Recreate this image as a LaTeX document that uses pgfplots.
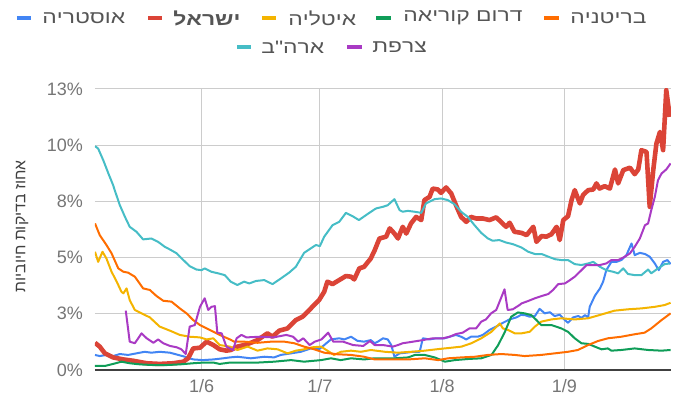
\documentclass[border=0pt]{standalone}
\usepackage{fontspec}
\setmainfont{Liberation Sans}
\newfontfamily\legfont{Liberation Sans}[FakeStretch=1.27]
\TeXXeTstate=1
\usepackage{pgfplots}
\pgfplotsset{compat=1.18}
\definecolor{cAus}{HTML}{4285F4}
\definecolor{cIsr}{HTML}{DB4437}
\definecolor{cIta}{HTML}{F4B400}
\definecolor{cKor}{HTML}{0F9D58}
\definecolor{cUK}{HTML}{FF6D00}
\definecolor{cUSA}{HTML}{46BDC6}
\definecolor{cFra}{HTML}{A93AC4}
\definecolor{tickgray}{HTML}{757575}
\definecolor{gridgray}{HTML}{CCCCCC}
\definecolor{leggray}{HTML}{555555}
\newcommand{\heb}[1]{\beginR #1\endR}
\begin{document}
\begin{tikzpicture}[x=1pt,y=1pt]
\path[use as bounding box] (-47.5,-18.5) rectangle (290.5,185);
\begin{axis}[at={(0,0)}, anchor=south west, scale only axis,
  width=288pt, height=140.5pt,
  xmin=4, xmax=150, ymin=0, ymax=12.5,
  axis x line*=bottom, axis y line*=left,
  y axis line style={draw=none},
  x axis line style={draw=black!75, line width=0.8pt},
  major tick length=0pt,
  grid=major, grid style={gridgray, line width=0.5pt},
  ytick={0,2.5,5,7.5,10,12.5},
  yticklabels={0\%,3\%,5\%,8\%,10\%,13\%},
  xtick={31,61,92,123},
  xticklabels={1/6,1/7,1/8,1/9},
  tick label style={font=\fontsize{9}{10}\selectfont, text=tickgray},
  yticklabel style={xshift=-2.5pt},
  xticklabel style={yshift=-1pt},
  clip=true,
  every axis plot/.append style={line width=1pt, line join=round, no markers},
]
% Austria
\addplot[cAus] coordinates {(4,0.67)(5.2,0.62)(6.9,0.67)(8.6,0.62)(10.3,0.71)(12.4,0.67)(14.5,0.74)(16.6,0.81)(18.3,0.77)(20.4,0.81)(23,0.77)(25.1,0.67)(26.8,0.59)(28.9,0.47)(31.4,0.44)(34,0.47)(36.5,0.52)(38.2,0.56)(40.1,0.59)(43.5,0.52)(46.9,0.59)(49.4,0.56)(51.1,0.67)(53.7,0.74)(56.2,0.81)(58.7,0.96)(60.8,0.92)(62.1,1.11)(63.8,1.36)(65.9,1.41)(67.2,1.36)(68.9,1.48)(70.5,1.30)(72.2,1.26)(73.9,1.33)(74.9,1.19)(75.7,1.26)(77,1.41)(78.2,1.36)(79.1,1.11)(79.9,0.59)(81.2,0.74)(82.9,0.77)(84.6,0.81)(86.3,0.81)(87.1,1.41)(88.8,1.36)(90.5,1.41)(92.6,1.41)(93.9,1.48)(95.5,1.56)(96.8,1.48)(98.1,1.36)(99.3,1.48)(101,1.48)(102.3,1.56)(104,1.78)(105.7,1.93)(107.4,2.10)(109.1,2.25)(110.8,2.34)(112,2.45)(113,2.44)(114.2,2.37)(115.5,2.40)(116.7,2.72)(118,2.52)(119.3,2.57)(120.5,2.40)(121.8,2.46)(123.1,2.22)(123.9,2.10)(125.2,2.34)(126.5,2.40)(127.3,2.32)(128.2,2.44)(129,2.34)(129.4,2.81)(130.7,3.3)(132,3.63)(132.8,3.93)(133.6,4.44)(134.9,4.81)(136.2,4.81)(137.4,4.89)(138.7,5.11)(140,5.63)(140.8,5.11)(142.1,5.21)(143.4,5.16)(144.6,5.04)(145.9,4.74)(146.9,4.44)(148,4.81)(149.1,4.89)(149.9,4.71)};
% Israel
\addplot[cIsr, line width=2.3pt] coordinates {(4,1.21)(5.2,1.04)(6.5,0.74)(8.6,0.56)(11.2,0.47)(13.7,0.41)(17.1,0.30)(20.4,0.27)(23.8,0.30)(26.4,0.37)(27.6,0.52)(28.9,0.96)(30.6,0.99)(32.3,1.26)(34,1.11)(35.6,0.92)(37.3,0.86)(38.4,0.89)(40.1,1.04)(41.8,1.11)(43.5,1.21)(45.2,1.33)(47.7,1.63)(49,1.48)(50.7,1.75)(52.8,1.85)(54.9,2.22)(56.6,2.37)(57.9,2.59)(59.1,2.81)(60.8,3.11)(62.1,3.48)(62.9,3.93)(64.2,3.82)(65.9,4.0)(67.6,4.18)(68.9,4.15)(69.7,4.03)(71,4.52)(72.2,4.59)(73.9,4.96)(74.9,5.33)(76.1,5.85)(77.8,5.93)(78.7,6.30)(79.9,6.07)(80.8,5.85)(82,6.37)(82.9,6.07)(84.1,6.52)(85.4,6.81)(86.7,6.67)(87.5,7.56)(88.8,7.70)(89.6,8.07)(90.9,8.03)(91.7,7.88)(93,8.12)(94.3,7.85)(95.5,7.33)(96.8,6.81)(98.1,6.59)(99.3,6.81)(100.6,6.74)(102.3,6.74)(104,6.67)(105.7,6.79)(106.9,6.59)(108.2,6.37)(109.1,6.55)(110.3,6.15)(112.1,6.10)(113.4,6.0)(115.1,6.37)(115.9,5.70)(117.2,5.96)(118.4,5.93)(119.7,6.04)(121,6.37)(121.8,5.78)(122.7,6.67)(123.9,6.84)(124.8,7.56)(125.6,8.0)(126.9,7.41)(127.7,7.78)(129,8.0)(130.3,8.03)(131.1,8.30)(131.9,8.07)(133.2,8.18)(134.5,8.07)(135.8,8.92)(136.6,8.30)(137.9,8.89)(139.6,9.0)(140.8,8.71)(141.7,8.92)(142.5,9.78)(143.8,9.70)(144.6,7.26)(145.5,8.89)(146.3,10.07)(147.2,10.59)(148,9.78)(148.8,12.45)(149.7,11.26)};
% Italy
\addplot[cIta] coordinates {(4,5.26)(4.8,4.81)(5.9,5.26)(6.9,4.96)(8.2,4.37)(9.5,3.93)(10.7,3.48)(11.2,3.41)(12,3.63)(12.8,3.11)(14.1,2.67)(15.8,2.52)(17.9,2.34)(20.4,1.93)(23,1.75)(25.5,1.56)(28,1.48)(30.6,1.45)(32.3,1.36)(34,1.41)(35.6,1.11)(38.2,1.04)(40.1,0.89)(42.7,1.04)(45.2,0.86)(47.7,0.96)(50.3,0.92)(52.8,0.74)(54.9,0.86)(57,0.92)(59.1,1.01)(61.3,1.04)(62.9,0.86)(64.6,0.67)(66.3,0.81)(68.9,0.86)(71.4,0.81)(73.9,0.89)(77.5,0.81)(80.8,0.77)(84.2,0.81)(87.6,0.86)(91,0.93)(94.3,0.99)(96.9,1.04)(99.4,1.19)(101.9,1.41)(104.5,1.70)(106.6,2.07)(107.4,1.85)(108.7,1.78)(110.4,1.63)(112.1,1.63)(114.2,1.70)(115.5,1.93)(117.1,2.15)(119.7,2.25)(122.2,2.30)(125.6,2.25)(129,2.30)(132.4,2.47)(135.7,2.64)(139.1,2.70)(142.5,2.74)(145.9,2.81)(148.4,2.89)(149.9,2.99)};
% South Korea
\addplot[cKor] coordinates {(4,0.18)(6.5,0.18)(8.6,0.27)(10.7,0.37)(12.8,0.30)(15.4,0.25)(18.8,0.22)(22.1,0.22)(25.5,0.25)(28.9,0.30)(31.4,0.33)(34,0.33)(35.6,0.27)(38.2,0.33)(45.2,0.33)(49.4,0.37)(53.7,0.44)(57,0.37)(61.3,0.44)(63.8,0.52)(66.3,0.44)(68.9,0.52)(72.2,0.47)(74.8,0.52)(80,0.52)(83.4,0.56)(85.1,0.67)(87.6,0.67)(90.1,0.56)(92.7,0.37)(95.2,0.44)(98.6,0.49)(101.9,0.52)(104.5,0.67)(106.2,1.11)(107.9,1.70)(109.5,2.37)(111.2,2.56)(112.9,2.52)(114.6,2.44)(115.9,2.22)(117.1,2.0)(119.7,2.0)(122.2,1.85)(123.9,1.70)(125.6,1.41)(127.3,1.19)(129,1.16)(130.7,1.04)(132.4,0.92)(134,0.96)(134.9,0.86)(137.4,0.89)(140.8,0.96)(144.2,0.89)(147.6,0.86)(149.9,0.89)};
% UK
\addplot[cUK] coordinates {(4,6.52)(5.2,6.0)(6.9,5.56)(8.2,5.19)(9.9,4.52)(11.2,4.37)(12.4,4.33)(14.1,4.15)(16.2,3.63)(17.9,3.56)(19.6,3.29)(21.3,3.08)(23.4,3.04)(25.5,2.74)(27.2,2.52)(28.9,2.22)(30.6,2.0)(33.1,1.78)(35.6,1.56)(38.2,1.36)(39.3,1.26)(41.8,1.26)(45.2,1.21)(48.6,1.26)(52,1.26)(54.5,1.19)(57,1.04)(59.6,0.92)(62.1,0.77)(65.5,0.70)(68.9,0.67)(72.2,0.59)(74.9,0.47)(79.1,0.47)(83.4,0.47)(87.6,0.52)(91,0.44)(93.5,0.52)(96.9,0.56)(100.3,0.59)(103.6,0.67)(107,0.71)(110.4,0.67)(112.9,0.62)(117.1,0.67)(120.5,0.74)(123.9,0.81)(126.4,0.89)(129,1.11)(131.5,1.29)(134,1.41)(137.4,1.48)(140.8,1.59)(143.3,1.66)(145,1.85)(147.6,2.22)(149.9,2.52)};
% USA
\addplot[cUSA] coordinates {(4,9.96)(4.8,9.85)(6.1,9.33)(7.4,8.74)(8.6,8.22)(9,8.0)(10.3,7.33)(11.6,6.81)(12.8,6.37)(14.5,6.15)(16.2,5.81)(18.3,5.85)(20,5.70)(21.7,5.48)(23,5.36)(24.7,5.19)(26.4,4.89)(28,4.62)(29.7,4.47)(31,4.44)(31.8,4.52)(33.5,4.37)(35.2,4.30)(36.9,4.22)(38.4,3.93)(40.1,3.78)(41.8,3.93)(43.1,3.85)(44.8,3.96)(46.9,4.0)(49,3.82)(51.1,4.07)(53.2,4.33)(54.9,4.59)(57,5.21)(58.7,5.41)(60,5.56)(61,5.51)(62.1,5.93)(64.2,6.44)(65.9,6.59)(67.6,6.99)(69.3,6.84)(70.9,6.67)(72.7,6.89)(74.8,7.14)(75.3,7.19)(77,7.26)(78.2,7.33)(79.9,7.6)(81.2,7.11)(82,7.04)(83.3,7.08)(85,7.04)(86.7,6.99)(87.9,7.41)(90.1,7.60)(91.7,7.63)(93.4,7.56)(95.1,7.38)(96.8,7.04)(98.5,6.81)(100.2,6.44)(101.9,6.10)(103.6,5.85)(104.8,5.75)(106.5,5.78)(108.2,5.67)(109.9,5.60)(112.1,5.45)(113.8,5.26)(115.5,5.16)(117.2,5.16)(118.9,5.04)(120.6,4.93)(122.2,4.89)(123.9,4.89)(125.6,4.71)(127.3,4.67)(129,4.74)(130.3,4.81)(132,4.59)(133.6,4.44)(135.3,4.37)(136.6,4.30)(137.9,4.52)(139.1,4.27)(140.8,4.22)(142.5,4.22)(144.2,4.47)(145,4.30)(146.7,4.52)(148.4,4.71)(149.7,4.74)};
% France
\addplot[cFra] coordinates {(11.8,2.64)(12.8,1.26)(14.1,1.19)(15.8,1.63)(17.1,1.41)(18.8,1.21)(20,1.36)(21.3,1.19)(23,1.07)(24.7,1.01)(25.9,0.92)(27,0.71)(28,1.93)(29.3,2.0)(30.6,2.81)(31.8,3.19)(32.7,2.67)(33.5,2.81)(34.4,2.84)(35,1.66)(36.1,1.63)(37.3,1.04)(38.2,0.96)(39,0.89)(39.9,1.41)(41.1,1.56)(42.4,1.45)(45.8,1.48)(49.2,1.45)(52.5,1.56)(54.2,1.48)(55.5,1.26)(56.8,1.41)(58.4,1.11)(59.7,1.26)(61.4,1.36)(63.1,1.66)(64.4,1.26)(66.9,1.26)(69.4,1.11)(72,1.07)(73.7,1.29)(74.9,1.11)(77,1.11)(79.5,1.04)(80.8,1.11)(82,1.19)(84.6,1.26)(87.1,1.33)(89.6,1.41)(92.2,1.41)(93.9,1.48)(95.5,1.60)(97.2,1.66)(98.9,1.85)(100.6,1.85)(101.9,2.15)(103.1,2.25)(104.4,2.52)(105.7,2.67)(106.9,3.19)(107.8,3.59)(108.6,2.67)(109.9,2.70)(111.6,2.89)(112.1,2.96)(113.8,3.07)(115.5,3.19)(117.2,3.29)(118.9,3.38)(120.1,3.56)(121.4,3.82)(123.1,3.85)(124.4,4.0)(125.6,4.15)(127.3,4.44)(128.6,4.67)(130.3,4.67)(132,4.67)(133.6,4.74)(134.9,4.89)(136.6,4.89)(138.3,5.04)(139.6,5.19)(140.8,5.48)(142.1,5.85)(143.4,6.44)(144.2,6.52)(145,7.11)(145.9,7.70)(146.7,8.44)(147.6,8.74)(148.8,8.92)(149.9,9.19)};
\end{axis}
% y axis title
\node[rotate=90, text=black!75, font=\fontsize{7.9}{9}\selectfont] at (-36.5,71.75) {\heb{אחוז בדיקות חיוביות}};
% legend
\begin{scope}[font=\legfont\fontsize{9}{10}\selectfont, every node/.style={anchor=west, text=leggray, inner sep=0pt}]
\draw[cAus, line width=2pt] (-39,176) -- (-32,176); \node at (-26.5,176) {\heb{אוסטריה}};
\draw[cIsr, line width=2pt] (26.5,176) -- (33.5,176); \node[font=\legfont\fontsize{9}{10}\selectfont\bfseries] at (39,176) {\heb{ישראל}};
\draw[cIta, line width=2pt] (83.5,176) -- (90.5,176); \node at (96.5,176) {\heb{איטליה}};
\draw[cKor, line width=2pt] (140.5,176) -- (148,176); \node at (154,176) {\heb{דרום קוריאה}};
\draw[cUK, line width=2pt] (224.5,176) -- (232,176); \node at (237.5,176) {\heb{בריטניה}};
\draw[cUSA, line width=2pt] (71,161.5) -- (78,161.5); \node at (83,161.5) {\heb{ארה"ב}};
\draw[cFra, line width=2pt] (126,161.5) -- (133.5,161.5); \node at (138.5,161.5) {\heb{צרפת}};
\end{scope}
\end{tikzpicture}
\end{document}
